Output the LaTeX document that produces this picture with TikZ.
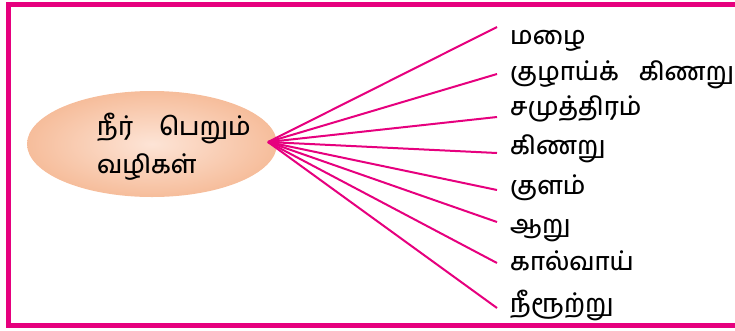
\documentclass[tikz,border=0pt]{standalone}
\usepackage{fontspec}
\newfontfamily\tamil[Script=Tamil, UprightFont=* Medium]{Hind Madurai}
\usepackage{tikz}
\usetikzlibrary{shapes.geometric}
\definecolor{magentaline}{HTML}{E6007E}
\definecolor{peachin}{HTML}{FDE4D6}
\definecolor{peachout}{HTML}{F6BD9B}

\begin{document}
\begin{tikzpicture}[
    x=1pt, y=-1pt,
    % Cadre ouvert a droite
    frameline/.style={draw=magentaline, line width=5pt},
    % Ellipse centrale
    srcnode/.style={ellipse, draw=none, inner sep=0pt, minimum width=250pt, minimum height=106pt,
        inner color=peachin, outer color=peachout},
    % Texte de l'ellipse
    srctext/.style={anchor=base west, inner sep=0pt, font=\tamil\fontsize{25}{28}\selectfont},
    % Etiquettes a droite
    waynode/.style={anchor=base west, inner sep=0pt, font=\tamil\fontsize{25}{28}\selectfont},
    % Lignes de liaison
    wayline/.style={draw=magentaline, line width=2pt}
]
\useasboundingbox (0,0) rectangle (735,330);

% Cadre
\draw[frameline] (736,4) -- (8.5,4) -- (8.5,325.5) -- (736,325.5);

% Ellipse
\node[srcnode] (src) at (152,144) {};
\node[srctext] (title1) at (97,135) {நீர்\hspace{26pt}பெறும்};
\node[srctext] (title2) at (97,173) {வழிகள்};
\coordinate (hub) at (268,142);

% Etiquettes
\node[waynode] (w1) at (510,44) {மழை};
\node[waynode] (w2) at (510,80) {குழாய்க்\hspace{20pt}கிணறு};
\node[waynode] (w3) at (510,115) {சமுத்திரம்};
\node[waynode] (w4) at (510,154) {கிணறு};
\node[waynode] (w5) at (510,194) {குளம்};
\node[waynode] (w6) at (510,233) {ஆறு};
\node[waynode] (w7) at (510,270) {கால்வாய்};
\node[waynode] (w8) at (510,312) {நீரூற்று};

% Bouts des lignes
\coordinate (e1) at (497,27);
\coordinate (e2) at (497,74);
\coordinate (e3) at (497,117);
\coordinate (e4) at (497,153);
\coordinate (e5) at (497,190);
\coordinate (e6) at (497,222);
\coordinate (e7) at (497,263);
\coordinate (e8) at (497,308);

\draw[wayline] (hub) -- (e1);
\draw[wayline] (hub) -- (e2);
\draw[wayline] (hub) -- (e3);
\draw[wayline] (hub) -- (e4);
\draw[wayline] (hub) -- (e5);
\draw[wayline] (hub) -- (e6);
\draw[wayline] (hub) -- (e7);
\draw[wayline] (hub) -- (e8);

\end{tikzpicture}
\end{document}
